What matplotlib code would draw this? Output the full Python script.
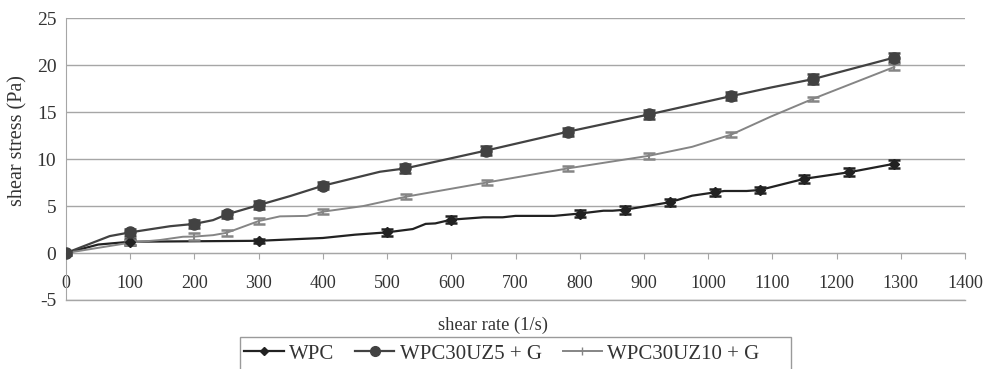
import numpy as np
from matplotlib import pyplot as plt
from matplotlib.patches import Rectangle

# WPC
wpc_x = [0, 50, 100, 200, 300, 400, 450, 500, 540, 560, 575, 600, 650, 680, 700,
         760, 800, 837, 851, 870, 940, 975, 1010, 1025, 1060, 1080, 1150, 1220, 1290]
wpc_y = [0, 0.9, 1.2, 1.25, 1.3, 1.6, 1.95, 2.2, 2.55, 3.1, 3.15, 3.55, 3.8, 3.8, 3.95,
         3.95, 4.2, 4.5, 4.5, 4.6, 5.4, 6.1, 6.45, 6.6, 6.6, 6.7, 7.9, 8.6, 9.5]
wpc_marks = [0, 100, 300, 500, 600, 800, 870, 940, 1010, 1080, 1150, 1220, 1290]
wpc_err = [0.2, 0.3, 0.2, 0.35, 0.35, 0.35, 0.4, 0.35, 0.35, 0.35, 0.4, 0.4, 0.45]

# WPC30UZ5 + G
uz5_x = [0, 68, 100, 162, 200, 229, 250, 300, 349, 400, 489, 528, 654, 781, 908,
         1036, 1097, 1163, 1290]
uz5_y = [0, 1.8, 2.2, 2.85, 3.1, 3.5, 4.1, 5.1, 6.06, 7.16, 8.65, 9.0, 10.9, 12.9,
         14.75, 16.7, 17.6, 18.5, 20.8]
uz5_marks = [0, 100, 200, 250, 300, 400, 528, 654, 781, 908, 1036, 1163, 1290]
uz5_err = [0.2, 0.35, 0.4, 0.4, 0.4, 0.4, 0.5, 0.5, 0.4, 0.5, 0.4, 0.5, 0.5]

# WPC30UZ10 + G
uz10_x = [0, 100, 146, 182, 200, 229, 250, 300, 333, 375, 400, 463, 530, 655, 781,
          908, 975, 1036, 1097, 1163, 1290]
uz10_y = [0, 1.1, 1.38, 1.73, 1.75, 1.9, 2.15, 3.4, 3.9, 3.95, 4.4, 5.0, 6.0, 7.5,
          9.0, 10.35, 11.3, 12.6, 14.5, 16.4, 19.8]
uz10_marks = [0, 100, 200, 250, 300, 400, 530, 655, 781, 908, 1036, 1163, 1290]
uz10_err = [0.15, 0.25, 0.4, 0.35, 0.35, 0.3, 0.25, 0.3, 0.3, 0.3, 0.25, 0.25, 0.3]

x_ticks = list(range(0, 1401, 100))
y_ticks = list(range(-5, 26, 5))

plt.rcParams["font.family"] = ["Liberation Serif", "DejaVu Serif"]
plt.rcParams["axes.unicode_minus"] = False

GRID = "#a6a6a6"
TEXT = "#333333"

fig = plt.figure(figsize=(9.86, 3.69), dpi=100)
ax = fig.add_axes([0.067, 0.187, 0.9117, 0.764])

series = [
    ("WPC", wpc_x, wpc_y, wpc_marks, wpc_err, "#222222", "D", 5, 1.6),
    ("WPC30UZ5 + G", uz5_x, uz5_y, uz5_marks, uz5_err, "#424242", "o", 8, 1.6),
    ("WPC30UZ10 + G", uz10_x, uz10_y, uz10_marks, uz10_err, "#858585", "|", 8, 1.4),
]

handles = []
for label, xs, ys, marks, err, color, marker, ms, lw in series:
    ax.plot(xs, ys, color=color, linewidth=lw, zorder=3)
    my = [ys[xs.index(m)] for m in marks]
    ax.errorbar(marks, my, yerr=err, fmt="none", ecolor=color, elinewidth=1.5,
                capsize=4, capthick=1.8, zorder=4)
    if marker != "|":
        ax.plot(marks, my, linestyle="none", marker=marker, markersize=ms,
                color=color, zorder=5)
    (h,) = ax.plot([], [], color=color, linewidth=lw, marker=marker,
                   markersize=ms - 1 if marker != "|" else 6)
    handles.append((h, label))

ax.set_xlim(0, 1400)
ax.set_ylim(-5, 25)
ax.set_xticks(x_ticks)
ax.set_yticks(y_ticks)
ax.yaxis.grid(True, color=GRID, linewidth=1)
ax.axhline(-5, color=GRID, linewidth=1, clip_on=False, zorder=1)
ax.set_axisbelow(True)

for side in ["top", "right"]:
    ax.spines[side].set_visible(False)
ax.spines["bottom"].set_position(("data", 0))
ax.spines["bottom"].set_color(GRID)
ax.spines["left"].set_color(GRID)
ax.tick_params(axis="x", direction="out", length=4, color=GRID,
               labelsize=13, labelcolor=TEXT, pad=12)
ax.tick_params(axis="y", length=0, labelsize=14, labelcolor=TEXT, pad=7)

fig.text(0.5, 1 - 325 / 369, "shear rate (1/s)", ha="center", va="center",
         fontsize=13.3, color=TEXT)
fig.text(0.018, 1 - 141 / 369, "shear stress (Pa)", ha="center", va="center",
         rotation=90, fontsize=14.5, color=TEXT)

leg = fig.legend([h for h, _ in handles], [l for _, l in handles],
                 loc="upper left", bbox_to_anchor=(244 / 986, 1 - 344 / 369),
                 ncol=3, fontsize=15, frameon=False, borderaxespad=0,
                 borderpad=0, handlelength=1.9, handletextpad=0.25,
                 columnspacing=1.0)
for t in leg.get_texts():
    t.set_color(TEXT)

fig.add_artist(Rectangle((240 / 986, -0.1), (791 - 240) / 986, 0.1 + (369 - 337) / 369,
                         transform=fig.transFigure, fill=False,
                         edgecolor="#9a9a9a", linewidth=1))

fig.savefig("out.png", dpi=100)
